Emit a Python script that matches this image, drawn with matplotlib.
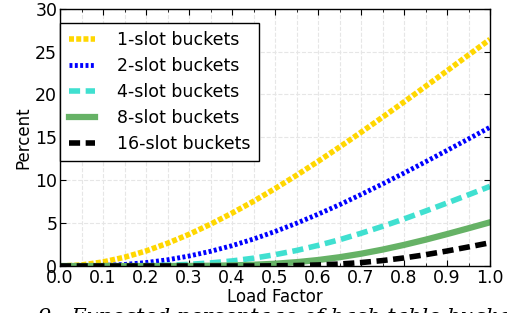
import matplotlib
matplotlib.use("Agg")
import matplotlib.pyplot as plt
from matplotlib.ticker import MultipleLocator

load_factor = [0.0, 0.05, 0.1, 0.15, 0.2, 0.25, 0.3, 0.35, 0.4, 0.45, 0.5,
               0.55, 0.6, 0.65, 0.7, 0.75, 0.8, 0.85, 0.9, 0.95, 1.0]
slot1 = [0.0, 0.12, 0.47, 1.02, 1.75, 2.65, 3.69, 4.87, 6.16, 7.54, 9.02,
         10.57, 12.19, 13.86, 15.58, 17.34, 19.12, 20.93, 22.75, 24.59, 26.42]
slot2 = [0.0, 0.01, 0.06, 0.18, 0.40, 0.72, 1.16, 1.71, 2.37, 3.14, 4.02,
         4.98, 6.03, 7.14, 8.33, 9.56, 10.83, 12.14, 13.47, 14.81, 16.17]
slot4 = [0.0, 0.0, 0.0, 0.01, 0.035, 0.09, 0.19, 0.36, 0.59, 0.91, 1.32,
         1.81, 2.40, 3.06, 3.81, 4.62, 5.48, 6.40, 7.34, 8.30, 9.28]
slot8 = [0.0, 0.0, 0.0, 0.0, 0.0, 0.003, 0.011, 0.03, 0.071, 0.146, 0.267,
         0.448, 0.698, 1.024, 1.429, 1.91, 2.458, 3.065, 3.717, 4.398, 5.093]
slot16 = [0.0, 0.0, 0.0, 0.0, 0.0, 0.0, 0.0, 0.0, 0.0, 0.0, 0.023,
          0.057, 0.121, 0.230, 0.398, 0.633, 0.940, 1.316, 1.748, 2.220, 2.71]
labels = ["1-slot buckets", "2-slot buckets", "4-slot buckets",
          "8-slot buckets", "16-slot buckets"]

fig = plt.figure(figsize=(5.07, 3.13), dpi=100)
ax = fig.add_axes([60/507, 47/313, 430/507, 257.4/313])

ax.plot(load_factor, slot1, color="#FFD700", lw=4, dashes=(0.9, 0.4), label=labels[0])
ax.plot(load_factor, slot2, color="#0000FF", lw=3.5, dashes=(0.6, 0.5), label=labels[1])
ax.plot(load_factor, slot4, color="#40E0D0", lw=4, dashes=(2.0, 1.0), label=labels[2])
ax.plot(load_factor, slot8, color="#66B266", lw=4.5, label=labels[3])
ax.plot(load_factor, slot16, color="black", lw=4, dashes=(2.0, 1.0), label=labels[4])

ax.set_xlim(0, 1)
ax.set_ylim(0, 30)
ax.xaxis.set_major_locator(MultipleLocator(0.1))
ax.xaxis.set_minor_locator(MultipleLocator(0.05))
ax.yaxis.set_major_locator(MultipleLocator(5))
ax.grid(True, which="both", axis="x", color="#e6e6e6", ls="--", lw=0.8)
ax.grid(True, which="major", axis="y", color="#e6e6e6", ls="--", lw=0.8)
ax.set_axisbelow(True)
ax.tick_params(which="both", direction="in", top=True, right=True, labelsize=12.5, pad=2)
ax.tick_params(which="major", length=4)
ax.tick_params(which="minor", length=2)
for s in ax.spines.values():
    s.set_linewidth(1.0)

ax.set_xlabel("Load Factor", fontsize=12, labelpad=1)
ax.set_ylabel("Percent", fontsize=12, labelpad=2)

leg = ax.legend(loc="upper left", fontsize=12.5, frameon=True, fancybox=False,
                edgecolor="black", framealpha=1, borderaxespad=0, handlelength=1.5,
                borderpad=0.5, labelspacing=0.45, handletextpad=1.3,
                bbox_to_anchor=(0.0, 0.945))
leg.get_frame().set_linewidth(1.0)

fig.text(38/507, (313 - 308)/313, "9:  Expected percentage of hash table buckets",
         fontsize=15, family="DejaVu Serif", style="italic", va="top")

fig.savefig("out.png", dpi=100)
